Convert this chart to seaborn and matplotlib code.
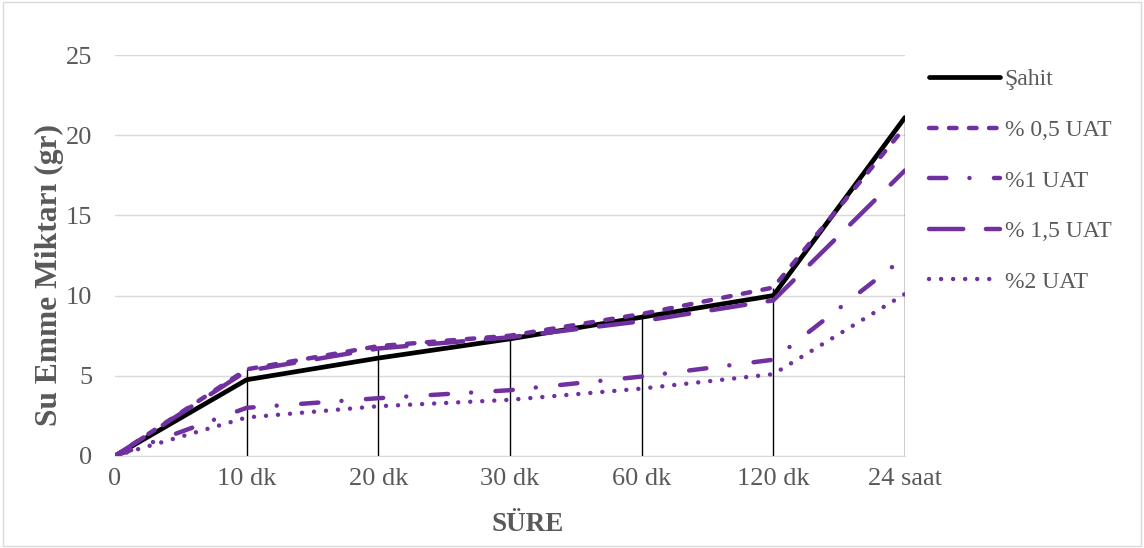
import matplotlib
matplotlib.use("Agg")
import matplotlib.pyplot as plt
import seaborn as sns
import pandas as pd
from matplotlib.patches import Rectangle

# categories on the x axis
sureler = ['0', '10 dk', '20 dk', '30 dk', '60 dk', '120 dk', '24 saat']

# water absorption values (gr)
sahit = [0, 4.75, 6.1, 7.3, 8.65, 10.0, 21.1]
uat_05 = [0, 5.4, 6.85, 7.5, 8.85, 10.5, 20.5]
uat_1 = [0, 3.0, 3.6, 4.1, 4.95, 6.0, 12.4]
uat_15 = [0, 5.3, 6.7, 7.4, 8.4, 9.7, 17.8]
uat_2 = [0, 2.4, 3.1, 3.5, 4.2, 5.1, 10.1]

seriler = ['Şahit', '% 0,5 UAT', '%1 UAT', '% 1,5 UAT', '%2 UAT']
degerler = [sahit, uat_05, uat_1, uat_15, uat_2]

mor = '#7030A0'
gri = '#595959'
renkler = ['black', mor, mor, mor, mor]
genislik = [3.4, 3.2, 3.2, 3.2, 3.2]
cizgiler = ['-', (0, (1.7, 2.8)), (0, (3.9, 5.2, 0.01, 5.5)), (0, (7.7, 5.1)), (0, (0.01, 2.7))]

df = pd.DataFrame({'x': list(range(len(sureler))) * len(seriler),
                   'deger': sum(degerler, []),
                   'seri': [s for s in seriler for _ in sureler]})

sns.set_style('white')
plt.rcParams['font.family'] = ['Liberation Serif', 'DejaVu Serif']

fig = plt.figure(figsize=(11.44, 5.48), dpi=100)
ax = fig.add_axes([0.1005, 0.168, 0.6905, 0.7316])

# drop lines from each category up to the highest series
for i in range(len(sureler)):
    tepe = max(d[i] for d in degerler)
    ax.vlines(i, 0, tepe, color='black', lw=1.0, zorder=1)

for s, r, w, ls in zip(seriler, renkler, genislik, cizgiler):
    sns.lineplot(data=df[df['seri'] == s], x='x', y='deger', ax=ax, color=r, lw=w,
                 linestyle=ls, dash_capstyle='round', label=s, zorder=3)

ax.set_xlim(0, 6)
ax.set_ylim(0, 25)
ax.set_yticks([0, 5, 10, 15, 20, 25])
ax.set_xticks(range(len(sureler)))
ax.set_xticklabels(sureler)
ax.yaxis.grid(True, color='#D9D9D9', lw=1.0)
ax.set_axisbelow(True)
for k in ['top', 'right', 'left']:
    ax.spines[k].set_visible(False)
ax.spines['bottom'].set_color('#D9D9D9')
ax.tick_params(axis='both', length=0, labelsize=19, colors=gri)
ax.tick_params(axis='x', pad=9)
ax.tick_params(axis='y', pad=16.5)

ax.set_xlabel('SÜRE', fontsize=19.5, fontweight='bold', color=gri)
ax.set_ylabel('Su Emme Miktarı (gr)', fontsize=22.7, fontweight='bold', color=gri)
ax.xaxis.set_label_coords(0.523, -0.14)
ax.yaxis.set_label_coords(-0.065, 0.451)

leg = ax.legend(loc='upper left', bbox_to_anchor=(1.0185, 0.989), frameon=False,
                fontsize=17, handlelength=3.0, handletextpad=0.2, labelspacing=1.23,
                borderaxespad=0)
for t in leg.get_texts():
    t.set_color(gri)

fig.patches.append(Rectangle((0.003, 0.004), 0.994, 0.992, transform=fig.transFigure,
                             fill=False, edgecolor='#D9D9D9', lw=1.0))

fig.savefig('out.png', dpi=100)
